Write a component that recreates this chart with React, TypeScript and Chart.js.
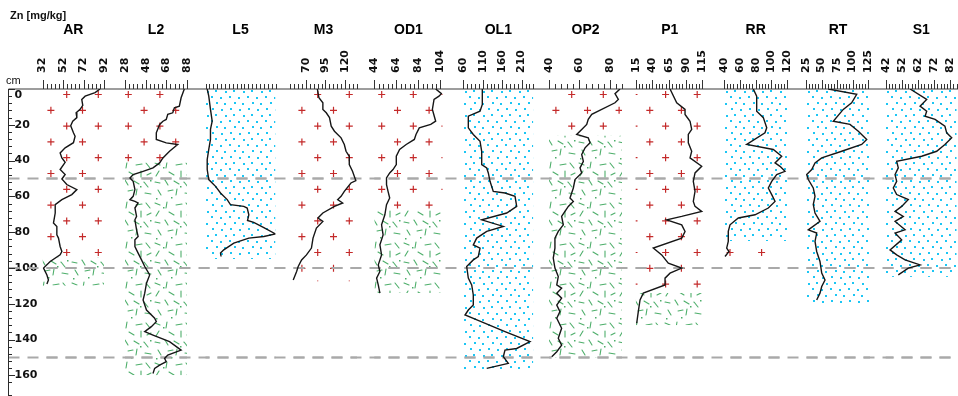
import React, { useEffect, useRef } from 'react';
import { Chart, registerables } from 'chart.js';

Chart.register(...registerables);

// ---- Zn profiles: concentration (mg/kg) against sample depth (cm) ----
const AR_ZN = [88.1, 83.3, 73.6, 70.3, 71.3, 68.7, 64.8, 65.5, 61.5, 59.5, 62.2, 63.8, 62.2, 54.1, 49.2, 50.9, 54.1, 49.2, 54.1, 50.9, 55.7, 65.5, 60.6, 50.9, 44.4, 44.4, 42.7, 46.0, 46.0, 47.6, 49.2, 50.9, 49.2, 39.5, 33.0, 36.3, 37.8, 36.3];
const AR_DEPTH = [0, 2, 4, 5.8, 9.2, 11.4, 13.3, 16, 18, 20.5, 24.5, 26.4, 30, 32.9, 35.7, 38.5, 41, 45, 47.8, 50.3, 53.4, 56.2, 59, 61.8, 64.6, 69.3, 74.9, 76.8, 81.5, 83.3, 88, 90.8, 92.7, 96.4, 100.1, 103.9, 106.7, 109];

const L2_ZN = [85.4, 82.3, 80.6, 75.8, 74.2, 69.4, 67.9, 64.7, 61.5, 58.3, 58.3, 67.9, 79.0, 71.1, 64.7, 61.5, 55.1, 45.5, 35.9, 32.8, 35.9, 37.6, 35.9, 32.8, 37.6, 40.7, 37.6, 39.2, 37.6, 39.2, 40.7, 37.6, 37.6, 40.7, 44.0, 47.1, 51.9, 48.8, 47.1, 45.5, 48.8, 56.7, 58.3, 53.5, 47.1, 55.1, 71.1, 82.3, 69.4, 66.3, 67.9, 61.5, 56.7, 55.1];
const L2_DEPTH = [0, 4.9, 9.6, 10.5, 13.3, 14.2, 17, 18, 19.8, 24.5, 28.2, 30.1, 31, 34.8, 38.5, 41.3, 44.1, 46, 47.8, 49.7, 51.6, 56.2, 60, 61.8, 62.8, 63.7, 66.5, 71.2, 73.1, 78.7, 82.4, 84.3, 88, 91.7, 95.5, 99.2, 103.9, 108.5, 114.1, 117.9, 123.5, 128.1, 130, 132.8, 135.6, 137.5, 141.2, 145.9, 148.7, 150.6, 152.4, 154.3, 156.1, 159];

const L5_ZN = [52, 72, 94, 116, 94, 94, 72, 52, 52, 72, 159, 223, 309, 351, 522, 566, 587, 570, 650, 780, 930, 780, 587, 394, 265, 223, 230];
const L5_DEPTH = [0, 4, 11.4, 18, 22.6, 28.2, 33.8, 39.4, 45, 50.6, 54.4, 58.1, 61.8, 64.6, 65.6, 66.5, 70.3, 73.5, 74.5, 77.5, 81, 82.4, 83.3, 86.1, 89.9, 91.7, 93.6];

const M3_ZN = [84.7, 86.7, 91.7, 91.7, 96.0, 100.1, 102.3, 106.4, 114.8, 118.9, 121.1, 125.2, 125.2, 129.3, 133.5, 127.3, 118.9, 114.8, 110.5, 116.8, 106.4, 91.7, 85.5, 91.7, 83.5, 79.2, 77.2, 70.9, 64.7, 60.4, 58.4, 54.1];
const M3_DEPTH = [0, 4.9, 7.7, 11.4, 13.3, 16, 20.8, 23.6, 27.3, 31, 34.8, 37.6, 42.2, 46, 51.2, 52.5, 57.2, 60, 61.8, 63.7, 65.6, 69.3, 72.1, 74, 77.7, 83.3, 88.9, 92.7, 95.5, 99.2, 102, 106.7];

const OD1_ZN = [99.8, 105, 102.8, 98.3, 96.8, 99.8, 95.3, 84.9, 81.9, 80.4, 73.0, 67.0, 64.0, 64.0, 61.0, 58.0, 55.1, 55.1, 56.5, 58.0, 55.1, 53.6, 50.6, 52.0, 49.1, 50.6, 47.6, 49.1, 46.1, 47.6, 49.1];
const OD1_DEPTH = [0, 2.6, 4, 5.8, 11.4, 18, 19.8, 21.7, 25.4, 28.2, 31, 33.8, 37.6, 42.2, 45, 46.9, 49.7, 53.4, 57.2, 60.9, 64.6, 70.3, 75.9, 81.5, 87.1, 92.7, 98.3, 102, 105.7, 109.5, 114.1];

const OL1_ZN = [108.9, 108.9, 103, 72.9, 72.9, 85.7, 103, 107.3, 107.3, 120.2, 124.3, 128.7, 137.1, 167.2, 193, 197.3, 171.6, 107.3, 162.9, 120.2, 94.5, 85.7, 103, 98.6, 85.7, 68.7, 72.9, 81.6, 85.7, 85.7, 72.9, 64.4, 107.3, 167.2, 231.5, 197.3, 167.2, 162.9, 175.7, 120.2];
const OL1_DEPTH = [0, 8.6, 12.4, 15.2, 21.7, 25.4, 29.2, 34.8, 42.2, 44.1, 46.9, 51.6, 57.2, 58.1, 60, 65.6, 69.3, 73.1, 76.8, 79.6, 83.3, 87.1, 88.9, 93.6, 95.5, 99.2, 105.7, 109.5, 115.1, 120.7, 123.5, 126.3, 130.1, 135.6, 141.2, 145, 145.9, 149.6, 153.3, 156.1];

const OP2_ZN = [86.7, 83.4, 85.6, 83.4, 68.1, 65.8, 64.8, 61.5, 58.2, 65.8, 67.0, 63.7, 61.5, 62.6, 60.4, 61.5, 57.1, 56.0, 53.8, 56.0, 52.7, 50.5, 48.3, 49.4, 46.1, 43.9, 43.9, 42.8, 43.9, 46.1, 45.1, 48.3, 45.1, 48.3, 45.1, 47.2, 45.1, 48.3, 46.1, 48.3, 45.1, 41.8];
const OP2_DEPTH = [0, 2.6, 5.8, 7.7, 14.2, 17, 19.8, 22.6, 25.4, 27.3, 30.1, 32.9, 36.6, 40.4, 44.1, 46.9, 50.6, 55.3, 60.9, 62.8, 65.6, 68.4, 71.2, 75.9, 79.6, 83.3, 88.9, 94.5, 100.1, 104.8, 109.5, 111.3, 114.1, 116.9, 120.7, 124.4, 128.1, 133.7, 139.3, 143.1, 146.8, 149.6];

const P1_ZN = [66.5, 76.5, 89, 89, 96.5, 99, 93.9, 93.9, 99, 96.5, 114, 104, 101.4, 104, 101.4, 104, 114, 84, 61.5, 84, 89, 84, 41.4, 54, 63.9, 84, 66.5, 59, 59, 26.4, 21.5, 18.9, 16.5];
const P1_DEPTH = [0, 7.7, 11.4, 14.2, 18, 22.6, 25.4, 30.1, 34.8, 38.5, 43.2, 46.9, 51.6, 57.2, 62.8, 65.6, 68.4, 71.2, 73.1, 75.9, 79.6, 83.3, 88.9, 92.7, 97.3, 100.1, 102.9, 105.7, 109.5, 114.1, 117.9, 124.4, 130.9];

const RR_ZN = [77, 81.3, 81.3, 89.7, 94, 91.8, 68.7, 102.3, 112.9, 104.5, 110.8, 117.1, 106.6, 100.3, 96, 100.3, 104.5, 96, 79.2, 58.1, 47.6, 45.4, 45.4, 43.4, 46.3, 41.3];
const RR_DEPTH = [0, 4, 12.4, 16, 21.7, 24.5, 31, 33.8, 37.6, 41.3, 43.2, 46, 47.8, 51.6, 55.3, 59, 62.8, 66.5, 70.3, 72.1, 75.9, 79.6, 85.2, 88.9, 90.8, 93.6];

const RT_ZN = [60.9, 106.6, 98.5, 85, 68.9, 95.8, 109.2, 122.7, 114.6, 82.5, 50.3, 39.5, 34.2, 26.1, 28.7, 36.7, 39.5, 36.7, 39.5, 47.5, 28.7, 42.2, 39.5, 42.2, 47.5, 50.3, 55.6, 50.3, 47.5, 42.2];
const RT_DEPTH = [0, 3, 7.7, 11.4, 18, 19.8, 23.6, 28.2, 31, 34.8, 38.5, 41.3, 45, 47.8, 50.6, 55.3, 60, 64.6, 69.3, 74, 78.7, 80.5, 85.2, 90.8, 96.4, 102.9, 106.7, 110.4, 114.1, 117.9];

const S1_ZN = [57.1, 67.4, 63.3, 67.4, 66.4, 72.6, 78.7, 79.8, 82.9, 78.7, 73.6, 64.3, 48.8, 49.8, 47.8, 48.8, 46.7, 48.8, 56, 51.9, 47.8, 52.9, 47.8, 54, 47.8, 51.9, 44.7, 48.8, 54, 63.3, 56, 49.8];
const S1_DEPTH = [0, 5.8, 9.6, 12.4, 15.2, 17, 20.8, 24.5, 27.3, 31, 34.8, 37.6, 40.4, 44.1, 47.8, 51.6, 55.3, 59, 61.8, 65.6, 68.4, 71.2, 74, 78.7, 80.5, 84.3, 89.9, 92.7, 95.5, 98.3, 100.1, 103.9];

// ---- Axis tick labels (mg/kg) ----
const AR_TICKS = [32, 52, 72, 92];
const L2_TICKS = [28, 48, 68, 88];
const L5_TICKS = [250, 500, 750];
const M3_TICKS = [70, 95, 120];
const OD1_TICKS = [44, 64, 84, 104];
const OL1_TICKS = [60, 110, 160, 210];
const OP2_TICKS = [40, 60, 80];
const P1_TICKS = [15, 40, 65, 90, 115];
const RR_TICKS = [40, 60, 80, 100, 120];
const RT_TICKS = [25, 50, 75, 100, 125];
const S1_TICKS = [42, 52, 62, 72, 82];
const DEPTH_TICKS = [0, 20, 40, 60, 80, 100, 120, 140, 160];
const GUIDE_DEPTHS = [50, 100, 150];

// ---- Sediment layers: [texture, top depth, bottom depth] ----
type Layer = [string, number, number];
const AR_LAYERS: Layer[] = [['cross', 0, 94], ['dash', 94, 110]];
const L2_LAYERS: Layer[] = [['cross', 0, 41], ['dash', 41, 160]];
const L5_LAYERS: Layer[] = [['dot', 0, 95]];
const M3_LAYERS: Layer[] = [['cross', 0, 107.5]];
const OD1_LAYERS: Layer[] = [['cross', 0, 67], ['dash', 67, 114]];
const OL1_LAYERS: Layer[] = [['dot', 0, 157]];
const OP2_LAYERS: Layer[] = [['cross', 0, 26], ['dash', 26, 150]];
const P1_LAYERS: Layer[] = [['cross', 0, 114], ['dash', 114, 132]];
const RR_LAYERS: Layer[] = [['dot', 0, 85], ['cross', 85, 95]];
const RT_LAYERS: Layer[] = [['dot', 0, 120]];
const S1_LAYERS: Layer[] = [['dot', 0, 105]];

// ---- Page layout ----
const W = 958;
const H = 396;
const AXIS_X = 8.5;
const PLOT_TOP = 89;
const PLOT_BOTTOM = 395;
const DEPTH_MAX = 171;
const SIDE = 12;
const TITLE_PAD = 22;
const TITLE_SIZE = 14;
const GUIDE_DASH = [11, 8];
const GUIDE_COLOR = '#a9a9a9';
const TICK_FONT = { family: '"DejaVu Sans", Verdana, sans-serif', size: 11, weight: 'bold' as const };
const TICK_LINE = TICK_FONT.size * 1.2;
const TEXT_FAMILY = '"Liberation Sans", Arial, sans-serif';

type Panel = {
  title: string; zn: number[]; depth: number[]; min: number; max: number; step: number;
  ticks: number[]; layers: Layer[]; phase: number; left: number; right: number;
};

const PANELS: Panel[] = [
  { title: 'AR', zn: AR_ZN, depth: AR_DEPTH, min: 32, max: 92, step: 4, ticks: AR_TICKS, layers: AR_LAYERS, phase: 24.2, left: 42.5, right: 104 },
  { title: 'L2', zn: L2_ZN, depth: L2_DEPTH, min: 28, max: 88, step: 4, ticks: L2_TICKS, layers: L2_LAYERS, phase: 3.3, left: 125, right: 187 },
  { title: 'L5', zn: L5_ZN, depth: L5_DEPTH, min: 30, max: 930, step: 50, ticks: L5_TICKS, layers: L5_LAYERS, phase: 0, left: 205.5, right: 275.5 },
  { title: 'M3', zn: M3_ZN, depth: M3_DEPTH, min: 50, max: 135, step: 5, ticks: M3_TICKS, layers: M3_LAYERS, phase: 27.7, left: 290, right: 357 },
  { title: 'OD1', zn: OD1_ZN, depth: OD1_DEPTH, min: 44, max: 106, step: 4, ticks: OD1_TICKS, layers: OD1_LAYERS, phase: 7.4, left: 374.3, right: 442.5 },
  { title: 'OL1', zn: OL1_ZN, depth: OL1_DEPTH, min: 60, max: 240, step: 10, ticks: OL1_TICKS, layers: OL1_LAYERS, phase: 0, left: 463.3, right: 533.3 },
  { title: 'OP2', zn: OP2_ZN, depth: OP2_DEPTH, min: 40, max: 88, step: 4, ticks: OP2_TICKS, layers: OP2_LAYERS, phase: 22.7, left: 549, right: 622 },
  { title: 'P1', zn: P1_ZN, depth: P1_DEPTH, min: 15, max: 117, step: 5, ticks: P1_TICKS, layers: P1_LAYERS, phase: 29.9, left: 635.7, right: 703.7 },
  { title: 'RR', zn: RR_ZN, depth: RR_DEPTH, min: 40, max: 120, step: 4, ticks: RR_TICKS, layers: RR_LAYERS, phase: 6, left: 724, right: 787.3 },
  { title: 'RT', zn: RT_ZN, depth: RT_DEPTH, min: 25, max: 128, step: 5, ticks: RT_TICKS, layers: RT_LAYERS, phase: 0, left: 806, right: 870 },
  { title: 'S1', zn: S1_ZN, depth: S1_DEPTH, min: 42, max: 86, step: 2, ticks: S1_TICKS, layers: S1_LAYERS, phase: 0, left: 885.7, right: 956.7 },
];

// ---- Textures ----
const DOT_SPOTS = [[0, 0], [9, 1], [5, 6], [13, 7], [1, 12], [10, 13], [4, 18], [14, 19]];
let dotTileCache: HTMLCanvasElement | null = null;
function dotTile() {
  if (dotTileCache) return dotTileCache;
  const c = document.createElement('canvas');
  c.width = 18; c.height = 24;
  const g = c.getContext('2d')!;
  g.fillStyle = '#1cc6f4';
  DOT_SPOTS.forEach(([x, y]) => g.fillRect(x, y, 2, 2));
  dotTileCache = c;
  return c;
}

const DASH_SEGMENTS = [
  [2, 3, 7, 5], [14, 2, 13, 8], [23, 5, 29, 4], [33, 3, 37, 8],
  [6, 11, 3, 16], [16, 12, 21, 15], [28, 11, 28, 17], [34, 15, 38, 13],
  [2, 22, 7, 23], [12, 20, 15, 25], [21, 21, 26, 24], [31, 22, 35, 27],
  [5, 30, 8, 35], [15, 31, 20, 30], [24, 29, 23, 35], [32, 33, 38, 34],
];
const DASH_SPECKS = [[10, 7], [27, 26], [18, 37], [37, 20], [3, 38]];
let dashTileCache: HTMLCanvasElement | null = null;
function dashTile() {
  if (dashTileCache) return dashTileCache;
  const c = document.createElement('canvas');
  c.width = 40; c.height = 40;
  const g = c.getContext('2d')!;
  g.strokeStyle = 'rgba(46,160,80,0.85)';
  g.lineWidth = 1.1;
  g.lineCap = 'round';
  DASH_SEGMENTS.forEach(([x1, y1, x2, y2]) => {
    g.beginPath(); g.moveTo(x1, y1); g.lineTo(x2, y2); g.stroke();
  });
  g.fillStyle = 'rgba(46,160,80,0.85)';
  DASH_SPECKS.forEach(([x, y]) => g.fillRect(x, y, 1.5, 1.5));
  dashTileCache = c;
  return c;
}

function drawCrosses(ctx: CanvasRenderingContext2D, left: number, right: number, top: number, bottom: number, phase: number) {
  const dy = 15.8;
  const dx = 31.6;
  ctx.strokeStyle = '#c42a2a';
  ctx.lineWidth = 1.2;
  for (let k = 0; ; k++) {
    const y = 94.5 + dy * k;
    if (y - 4 > bottom) break;
    if (y + 4 < top) continue;
    let x = left + phase + (k % 2 ? dy : 0);
    while (x - dx > left - 4) x -= dx;
    for (; x < right + 4; x += dx) {
      ctx.beginPath();
      ctx.moveTo(x - 3.5, y); ctx.lineTo(x + 3.5, y);
      ctx.moveTo(x, y - 3.5); ctx.lineTo(x, y + 3.5);
      ctx.stroke();
    }
  }
}

function isMajor(list: number[], v: number) {
  return list.some((m) => Math.abs(m - v) < 1e-6);
}

function ProfilePanel({ p }: { p: Panel }) {
  const ref = useRef<HTMLCanvasElement>(null);
  const cl = Math.floor(p.left) - SIDE;
  const cw = Math.ceil(p.right) + SIDE - cl;

  useEffect(() => {
    const decor = {
      id: 'panelDecor',
      beforeDatasetsDraw(chart: any) {
        const { ctx, chartArea: a } = chart;
        const ys = chart.scales.y;
        for (const [kind, from, to] of p.layers) {
          const top = ys.getPixelForValue(from);
          const bot = ys.getPixelForValue(to);
          ctx.save();
          ctx.beginPath();
          ctx.rect(a.left, top, a.right - a.left, bot - top);
          ctx.clip();
          if (kind === 'cross') {
            drawCrosses(ctx, a.left, a.right, top, bot, p.phase);
          } else {
            ctx.fillStyle = ctx.createPattern(kind === 'dot' ? dotTile() : dashTile(), 'repeat');
            ctx.fillRect(a.left, top, a.right - a.left, bot - top);
          }
          ctx.restore();
        }
        ctx.save();
        ctx.strokeStyle = GUIDE_COLOR;
        ctx.lineWidth = 2;
        ctx.setLineDash(GUIDE_DASH);
        ctx.lineDashOffset = cl + a.left - AXIS_X;
        for (const d of GUIDE_DEPTHS) {
          const y = ys.getPixelForValue(d);
          ctx.beginPath(); ctx.moveTo(a.left, y); ctx.lineTo(a.right, y); ctx.stroke();
        }
        ctx.restore();
      },
      afterDraw(chart: any) {
        const { ctx, chartArea: a } = chart;
        const xs = chart.scales.x;
        ctx.save();
        ctx.strokeStyle = '#333';
        ctx.lineWidth = 1;
        for (const t of xs.ticks) {
          const x = Math.round(xs.getPixelForValue(t.value)) + 0.5;
          const len = isMajor(p.ticks, t.value) ? 9 : 5;
          ctx.beginPath(); ctx.moveTo(x, a.top); ctx.lineTo(x, a.top - len); ctx.stroke();
        }
        ctx.restore();
      },
    };

    const chart = new Chart(ref.current!, {
      type: 'scatter',
      data: {
        datasets: [{
          data: p.zn.map((v, i) => ({ x: v, y: p.depth[i] })),
          showLine: true,
          borderColor: '#161616',
          borderWidth: 1.4,
          pointRadius: 0,
          pointHoverRadius: 0,
          tension: 0,
        }],
      },
      options: {
        animation: false,
        responsive: false,
        events: [],
        layout: { padding: { left: p.left - cl, right: cl + cw - p.right, top: 0, bottom: H - PLOT_BOTTOM } },
        plugins: {
          legend: { display: false },
          tooltip: { enabled: false },
          title: {
            display: true,
            text: p.title,
            color: '#000',
            font: { family: TEXT_FAMILY, size: TITLE_SIZE, weight: 'bold' },
            padding: { top: TITLE_PAD, bottom: 0 },
          },
        },
        scales: {
          x: {
            type: 'linear',
            position: 'top',
            min: p.min,
            max: p.max,
            grid: { display: false, drawTicks: false },
            border: { display: false },
            afterFit: (s: any) => {
              s.height = PLOT_TOP - (TITLE_PAD + TITLE_SIZE * 1.2);
              s.paddingLeft = 0;
              s.paddingRight = 0;
            },
            ticks: {
              stepSize: p.step,
              includeBounds: false,
              autoSkip: false,
              minRotation: 90,
              maxRotation: 90,
              padding: 16,
              labelOffset: TICK_LINE,
              color: '#111',
              font: TICK_FONT,
              callback: (v: any) => (isMajor(p.ticks, Number(v)) ? String(v) : ''),
            },
          },
          y: { type: 'linear', reverse: true, min: 0, max: DEPTH_MAX, display: false },
        },
      },
      plugins: [decor],
    } as any);
    return () => chart.destroy();
  }, []);

  return (
    <canvas
      ref={ref}
      width={cw}
      height={H}
      style={{ position: 'absolute', left: cl, top: 0, width: cw, height: H }}
    />
  );
}

function DepthFrame() {
  const ref = useRef<HTMLCanvasElement>(null);
  useEffect(() => {
    const frame = {
      id: 'depthFrame',
      afterDraw(chart: any) {
        const { ctx } = chart;
        const ys = chart.scales.y;
        ctx.save();
        ctx.strokeStyle = GUIDE_COLOR;
        ctx.lineWidth = 2;
        ctx.setLineDash(GUIDE_DASH);
        for (const d of GUIDE_DEPTHS) {
          const y = ys.getPixelForValue(d);
          ctx.beginPath(); ctx.moveTo(AXIS_X, y); ctx.lineTo(W, y); ctx.stroke();
        }
        ctx.setLineDash([]);
        ctx.strokeStyle = '#7d7d7d';
        ctx.lineWidth = 1.5;
        ctx.beginPath(); ctx.moveTo(AXIS_X, PLOT_TOP); ctx.lineTo(W, PLOT_TOP); ctx.stroke();
        ctx.strokeStyle = '#2b2b2b';
        ctx.lineWidth = 1;
        ctx.beginPath(); ctx.moveTo(AXIS_X, PLOT_TOP); ctx.lineTo(AXIS_X, H); ctx.stroke();
        for (const t of ys.ticks) {
          const y = Math.round(ys.getPixelForValue(t.value)) + 0.5;
          const len = isMajor(DEPTH_TICKS, t.value) ? 6.5 : 3.5;
          ctx.beginPath(); ctx.moveTo(AXIS_X, y); ctx.lineTo(AXIS_X + len, y); ctx.stroke();
        }
        ctx.fillStyle = '#111';
        ctx.textBaseline = 'alphabetic';
        ctx.textAlign = 'left';
        ctx.font = `bold 11px ${TEXT_FAMILY}`;
        ctx.fillText('Zn [mg/kg]', 10, 19);
        ctx.font = `11px ${TEXT_FAMILY}`;
        ctx.fillText('cm', 6, 84);
        ctx.restore();
      },
    };
    const chart = new Chart(ref.current!, {
      type: 'scatter',
      data: { datasets: [] },
      options: {
        animation: false,
        responsive: false,
        events: [],
        layout: { padding: { left: AXIS_X, right: 0, top: PLOT_TOP, bottom: H - PLOT_BOTTOM } },
        plugins: { legend: { display: false }, tooltip: { enabled: false } },
        scales: {
          x: { display: false, min: 0, max: 1 },
          y: {
            type: 'linear',
            position: 'left',
            reverse: true,
            min: 0,
            max: DEPTH_MAX,
            grid: { display: false, drawTicks: false },
            border: { display: false },
            afterFit: (s: any) => {
              s.width = 0;
              s.paddingTop = 0;
              s.paddingBottom = 0;
            },
            ticks: {
              stepSize: 4,
              autoSkip: false,
              mirror: true,
              padding: 6,
              color: '#111',
              font: { ...TICK_FONT, lineHeight: 1.1 },
              callback: (v: any) => {
                const n = Number(v);
                if (n === 0) return ['', '0'];
                return isMajor(DEPTH_TICKS, n) ? String(n) : '';
              },
            },
          },
        },
      },
      plugins: [frame],
    } as any);
    return () => chart.destroy();
  }, []);
  return (
    <canvas ref={ref} width={W} height={H} style={{ position: 'absolute', left: 0, top: 0, width: W, height: H }} />
  );
}

export default function App() {
  return (
    <div style={{ position: 'fixed', left: 0, top: 0, width: W, height: H, overflow: 'hidden', background: '#fff' }}>
      <DepthFrame />
      {PANELS.map((p) => (
        <ProfilePanel key={p.title} p={p} />
      ))}
    </div>
  );
}
